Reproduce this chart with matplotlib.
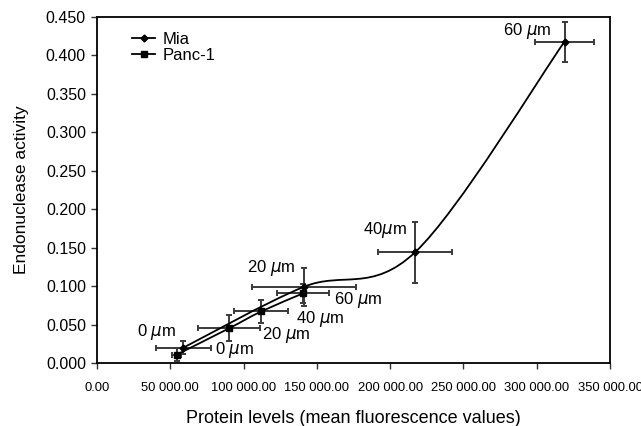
import numpy as np
import matplotlib.pyplot as plt
from matplotlib.path import Path
from matplotlib.patches import PathPatch
from matplotlib.ticker import FuncFormatter, MultipleLocator

plt.rcParams['font.family'] = ['Liberation Sans', 'DejaVu Sans']

# ----- dados -----
conc = ["0", "20", "40", "60"]

mia_x = [59000, 141000, 217000, 319000]
mia_y = [0.020, 0.099, 0.144, 0.418]
mia_xerr = [18500, 35500, 25000, 20000]
mia_yerr = [0.008, 0.025, 0.040, 0.026]

panc_x = [54500, 90000, 112000, 140600]
panc_y = [0.011, 0.045, 0.067, 0.0906]
panc_xerr = [3000, 21000, 18200, 17600]
panc_yerr = [0.009, 0.017, 0.015, 0.012]

mia_lbl = ["0 $\\mu$m", "20 $\\mu$m", "40$\\mu$m", "60 $\\mu$m"]
mia_lbl_pos = [(40500, 0.040), (119000, 0.123), (196500, 0.1735), (293500, 0.432)]
panc_lbl = ["0 $\\mu$m", "20 $\\mu$m", "40 $\\mu$m", "60 $\\mu$m"]
panc_lbl_pos = [(94000, 0.017), (129000, 0.037), (152500, 0.0566), (178000, 0.082)]

x_max = 350000
y_max = 0.45

fig = plt.figure(figsize=(6.41, 4.26), dpi=100)
ax_w, ax_h = 513, 346
ax = fig.add_axes([97 / 641, 1 - 363 / 426, ax_w / 641, ax_h / 426])
ax.set_xlim(0, x_max)
ax.set_ylim(0, y_max)


def curva_suave(xs, ys):
    # linha suavizada estilo Excel (Catmull-Rom -> Bezier, em pixels)
    sx = ax_w / x_max
    sy = ax_h / y_max
    P = np.column_stack([np.array(xs) * sx, np.array(ys) * sy])
    n = len(P)
    verts = [P[0]]
    codes = [Path.MOVETO]
    for i in range(n - 1):
        p0 = P[i - 1] if i > 0 else P[i]
        p1 = P[i]
        p2 = P[i + 1]
        p3 = P[i + 2] if i + 2 < n else P[i + 1]
        c1 = p1 + (p2 - p0) / 6
        c2 = p2 - (p3 - p1) / 6
        verts += [c1, c2, p2]
        codes += [Path.CURVE4] * 3
    verts = np.array(verts) / [sx, sy]
    return PathPatch(Path(verts, codes), facecolor='none', edgecolor='black', lw=1.3, zorder=3)


ax.add_patch(curva_suave(mia_x, mia_y))
ax.add_patch(curva_suave(panc_x, panc_y))

ax.errorbar(mia_x, mia_y, xerr=mia_xerr, yerr=mia_yerr, fmt='none',
            ecolor='#3a3a3a', elinewidth=1.4, capsize=2.5, capthick=1.4, zorder=2)
ax.errorbar(panc_x, panc_y, xerr=panc_xerr, yerr=panc_yerr, fmt='none',
            ecolor='#3a3a3a', elinewidth=1.4, capsize=2.5, capthick=1.4, zorder=2)
ax.plot(mia_x, mia_y, linestyle='none', marker='D', ms=3.5, color='black', zorder=4)
ax.plot(panc_x, panc_y, linestyle='none', marker='s', ms=4, color='black', zorder=4)

for t, (px, py) in zip(mia_lbl, mia_lbl_pos):
    ax.text(px, py, t, fontsize=12, ha='center', va='center')
for t, (px, py) in zip(panc_lbl, panc_lbl_pos):
    ax.text(px, py, t, fontsize=12, ha='center', va='center')

# legenda
h1, = ax.plot([], [], color='black', lw=1.3, marker='D', ms=3.5)
h2, = ax.plot([], [], color='black', lw=1.3, marker='s', ms=4)
ax.legend([h1, h2], ["Mia", "Panc-1"], loc='upper left', bbox_to_anchor=(0.068, 0.957),
          frameon=False, fontsize=12, handlelength=1.4, handletextpad=0.45,
          labelspacing=0.05, borderpad=0, borderaxespad=0)

ax.xaxis.set_major_locator(MultipleLocator(50000))
ax.yaxis.set_major_locator(MultipleLocator(0.05))
ax.xaxis.set_major_formatter(FuncFormatter(lambda v, p: f"{v:,.2f}".replace(",", " ")))
ax.yaxis.set_major_formatter(FuncFormatter(lambda v, p: f"{v:.3f}"))
ax.tick_params(axis='both', direction='out', length=4, width=1, color='#333333')
ax.tick_params(axis='y', labelsize=11.5, pad=4)
ax.tick_params(axis='x', labelsize=9.4, pad=10)

for s in ax.spines.values():
    s.set_linewidth(1.3)

ax.set_xlabel("Protein levels (mean fluorescence values)", fontsize=13, labelpad=11)
ax.set_ylabel("Endonuclease activity", fontsize=12.5, labelpad=12)

fig.savefig("out.png", dpi=100)
